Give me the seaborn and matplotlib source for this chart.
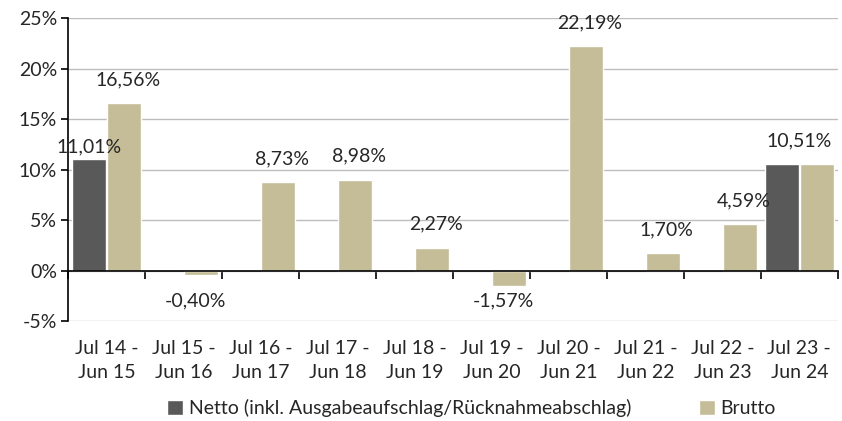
import numpy as np
import pandas as pd
import matplotlib
matplotlib.use("Agg")
import matplotlib.pyplot as plt
import seaborn as sns

periods = ["Jul 14 -\nJun 15", "Jul 15 -\nJun 16", "Jul 16 -\nJun 17", "Jul 17 -\nJun 18",
           "Jul 18 -\nJun 19", "Jul 19 -\nJun 20", "Jul 20 -\nJun 21", "Jul 21 -\nJun 22",
           "Jul 22 -\nJun 23", "Jul 23 -\nJun 24"]
netto = [11.01, np.nan, np.nan, np.nan, np.nan, np.nan, np.nan, np.nan, np.nan, 10.51]
brutto = [16.56, -0.40, 8.73, 8.98, 2.27, -1.57, 22.19, 1.70, 4.59, 10.51]
series_names = ["Netto (inkl. Ausgabeaufschlag/Rücknahmeabschlag)", "Brutto"]
colors = ["#595959", "#c4bd97"]
yticks = [-5, 0, 5, 10, 15, 20, 25]

sns.set_theme(style="white")
plt.rcParams["font.family"] = ["Lato", "DejaVu Sans"]
FS = 14

df = pd.DataFrame({
    "period": periods * 2,
    "series": [series_names[0]] * len(periods) + [series_names[1]] * len(periods),
    "value": netto + brutto,
})

fig = plt.figure(figsize=(8.42, 4.21), dpi=100)
ax = fig.add_axes([0.0808, 0.2375, 0.9142, 0.7195])

sns.barplot(data=df, x="period", y="value", hue="series", palette=colors,
            order=periods, hue_order=series_names, width=0.92, gap=0.04,
            ax=ax, legend=True, saturation=1)

ax.set_ylim(-5, 25)
ax.set_xlim(-0.5, len(periods) - 0.5)
ax.set_yticks(yticks)
ax.set_yticklabels([f"{t}%" for t in yticks], fontsize=FS)
ax.yaxis.grid(True, color="#bdbdbd", linewidth=1)
ax.set_axisbelow(True)
ax.set_xlabel("")
ax.set_ylabel("")

for s in ["top", "right"]:
    ax.spines[s].set_visible(False)
ax.spines["left"].set_color("black")
ax.spines["left"].set_linewidth(1.2)
ax.spines["bottom"].set_position(("data", 0))
ax.spines["bottom"].set_color("black")
ax.spines["bottom"].set_linewidth(1.2)

ax.tick_params(axis="y", left=True, length=5, width=1.2, color="black", pad=3, labelsize=FS)
ax.set_xticks(range(len(periods)))
ax.set_xticklabels(periods, fontsize=FS, linespacing=1.5)
ax.tick_params(axis="x", which="major", bottom=False, length=0, pad=50)
ax.set_xticks(np.arange(-0.5, len(periods)), minor=True)
ax.tick_params(axis="x", which="minor", bottom=True, length=6, width=1.2, color="black")

# data labels
containers = ax.containers
netto_bars, brutto_bars = containers[0], containers[1]
for i, (b, v) in enumerate(zip(brutto_bars, brutto)):
    x = b.get_x() + b.get_width() / 2 + 0.05
    if i == len(brutto) - 1:
        x = b.get_x() - 0.01
    if v >= 0:
        ax.annotate(f"{v:.2f}%".replace(".", ","), (x, v), xytext=(0, 11),
                    textcoords="offset points", ha="center", va="bottom", fontsize=FS)
    else:
        ax.annotate(f"{v:.2f}%".replace(".", ","), (x - 0.12, -3), ha="center", va="center", fontsize=FS)
for i, (b, v) in enumerate(zip(netto_bars, netto)):
    if np.isnan(v) or i == len(netto) - 1:
        continue
    x = b.get_x() + b.get_width() / 2
    ax.annotate(f"{v:.2f}%".replace(".", ","), (x, v), xytext=(0, 3),
                textcoords="offset points", ha="center", va="bottom", fontsize=FS)

leg = ax.get_legend()
handles = leg.legend_handles
leg.remove()
fig.legend(handles, series_names, loc="center", bbox_to_anchor=(0.56, 0.03), ncol=2,
           frameon=False, fontsize=FS, handlelength=0.8, handleheight=0.8,
           handletextpad=0.3, columnspacing=3.5)

fig.savefig("out.png", dpi=100)
